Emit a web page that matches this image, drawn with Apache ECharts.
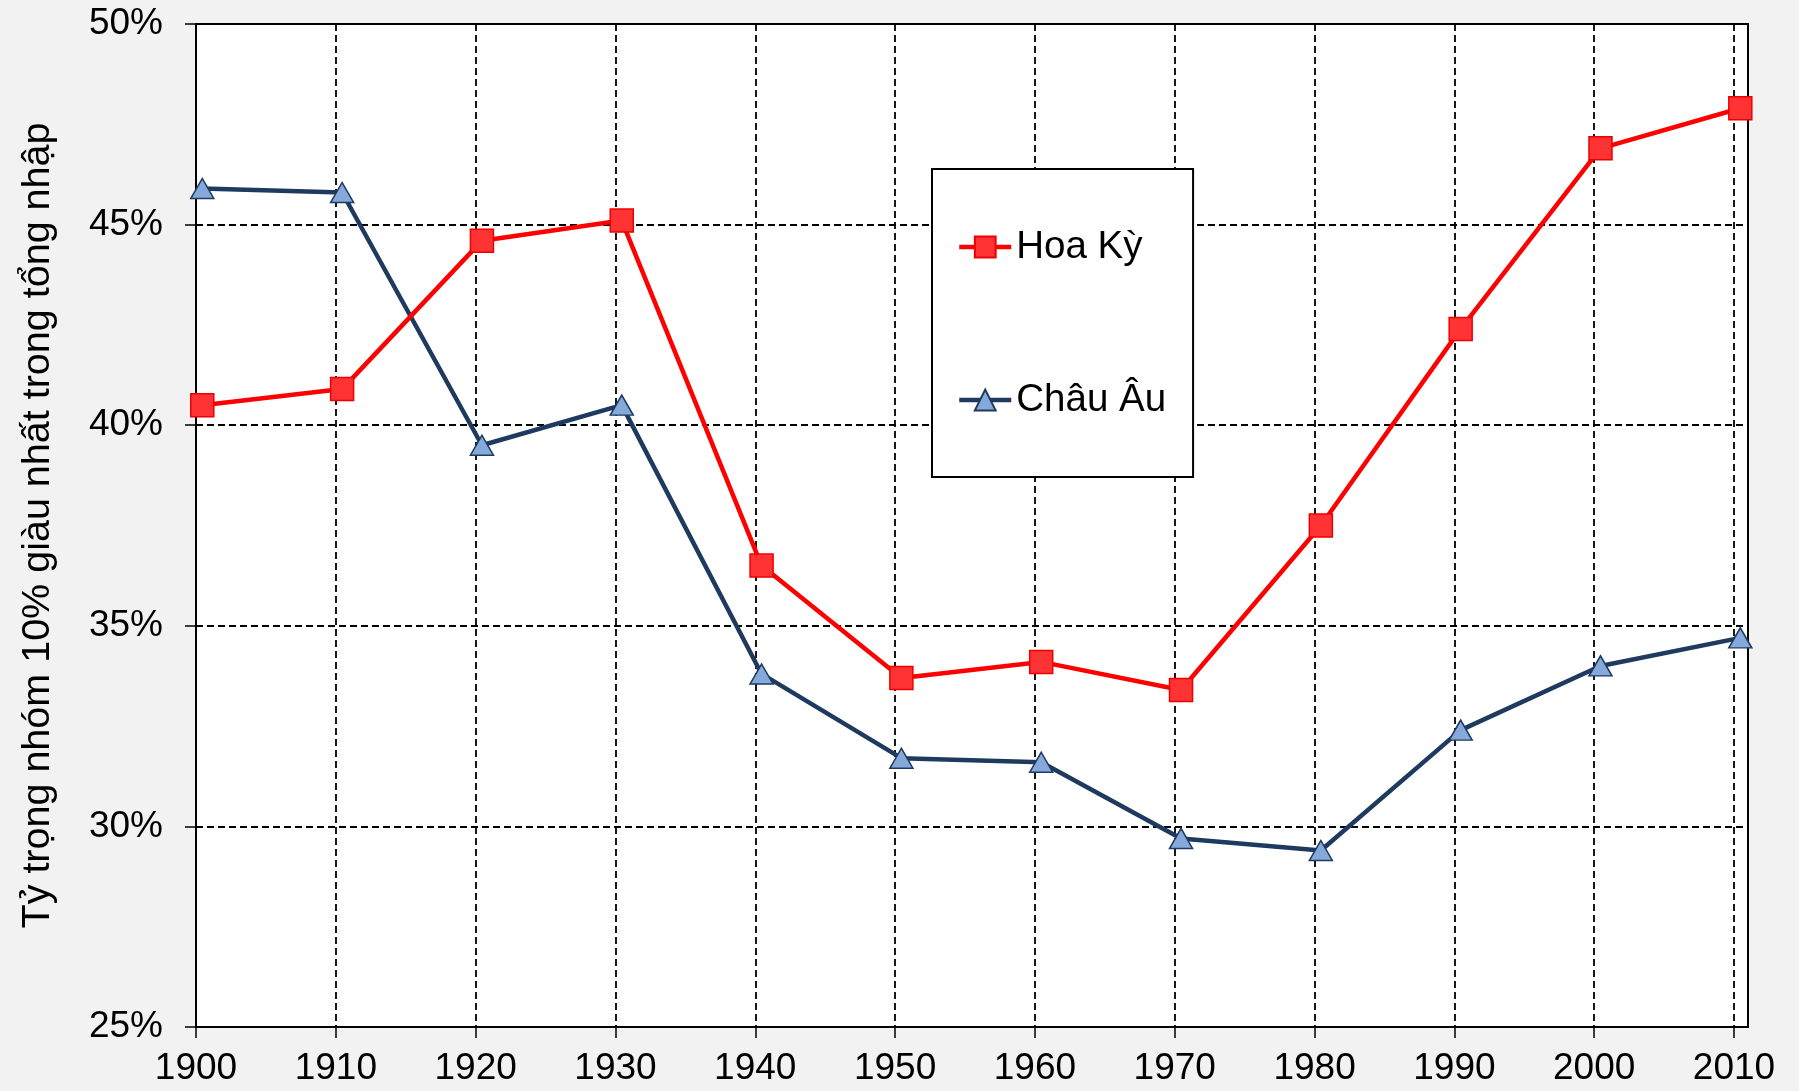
<!DOCTYPE html>
<html>
<head>
<meta charset="utf-8">
<script src="https://cdn.jsdelivr.net/npm/echarts@6/dist/echarts.min.js"></script>
<style>
  html, body { margin: 0; padding: 0; background: #f2f2f2; }
  #chart { width: 1799px; height: 1091px; }
</style>
</head>
<body>
<div id="chart"></div>
<script>
// years shown on the axis
const yearTicks = [1900, 1910, 1920, 1930, 1940, 1950, 1960, 1970, 1980, 1990, 2000, 2010];
// points sit a little right of each decade line in the original
const pointYears = [1900.45, 1910.45, 1920.45, 1930.45, 1940.45, 1950.45, 1960.45, 1970.45, 1980.45, 1990.45, 2000.45, 2010.45];
const usValues = [40.5, 40.9, 44.6, 45.1, 36.5, 33.7, 34.1, 33.4, 37.5, 42.4, 46.9, 47.9];
const euValues = [45.9, 45.8, 39.5, 40.5, 33.8, 31.7, 31.6, 29.7, 29.4, 32.4, 34.0, 34.7];
const yTicks = [25, 30, 35, 40, 45, 50];

const font = 'Liberation Sans, Arial, sans-serif';
const myChart = echarts.init(document.getElementById('chart'));

const option = {
    backgroundColor: '#f2f2f2',
    animation: false,
    grid: {
        left: 196, top: 24, right: 51, bottom: 64,
        show: true,
        backgroundColor: '#fff',
        borderColor: '#000',
        borderWidth: 2
    },
    legend: {
        left: 932, top: 169,
        orient: 'vertical',
        backgroundColor: '#fff',
        borderColor: '#000',
        borderWidth: 2,
        padding: [56, 27, 55, 25],
        itemGap: 109,
        itemWidth: 52,
        itemHeight: 26,
        lineStyle: { width: 4.5 },
        textStyle: { fontFamily: font, fontSize: 38.5, color: '#000', lineHeight: 44 },
        data: ['Hoa Kỳ', 'Châu Âu']
    },
    xAxis: {
        type: 'value',
        min: 1900,
        max: 2011,
        interval: 10,
        axisLine: { lineStyle: { color: '#000', width: 2 } },
        axisTick: { show: true, length: 11, lineStyle: { color: '#000', width: 1.5 }, customValues: yearTicks },
        axisLabel: {
            fontFamily: font, fontSize: 37, color: '#000', margin: 23,
            customValues: yearTicks,
            formatter: v => String(v)
        },
        splitLine: { show: true, lineStyle: { color: '#000', width: 1.8, type: [7, 4] } }
    },
    yAxis: {
        type: 'value',
        min: 25,
        max: 50,
        interval: 5,
        name: 'Tỷ trọng nhóm 10% giàu nhất trong tổng nhập',
        nameLocation: 'middle',
        nameGap: 138,
        nameTextStyle: { fontFamily: font, fontSize: 39.5, color: '#000' },
        axisLine: { show: true, lineStyle: { color: '#000', width: 2 } },
        axisTick: { show: true, length: 11, lineStyle: { color: '#000', width: 1.5 } },
        axisLabel: {
            fontFamily: font, fontSize: 37, color: '#000', margin: 33,
            formatter: v => yTicks.includes(v) ? v + '%' : ''
        },
        splitLine: { show: true, lineStyle: { color: '#000', width: 1.8, type: [7, 4] } }
    },
    series: [
        {
            name: 'Hoa Kỳ',
            type: 'line',
            data: pointYears.map((x, i) => [x, usValues[i]]),
            symbol: 'rect',
            symbolSize: 23,
            lineStyle: { color: '#ff0000', width: 4.5 },
            itemStyle: { color: '#ff3333', borderColor: '#ee0000', borderWidth: 1.5 },
            z: 3
        },
        {
            name: 'Châu Âu',
            type: 'line',
            data: pointYears.map((x, i) => [x, euValues[i]]),
            symbol: 'triangle',
            symbolSize: [23, 20],
            lineStyle: { color: '#1f3a5f', width: 4.5 },
            itemStyle: { color: '#86a9dc', borderColor: '#1f3a5f', borderWidth: 1.5 },
            z: 2
        }
    ]
};

myChart.setOption(option);
</script>
</body>
</html>
